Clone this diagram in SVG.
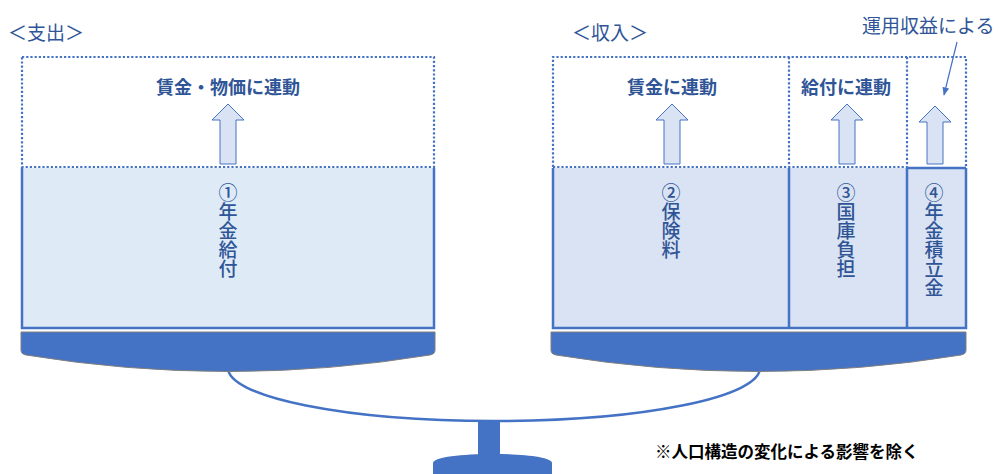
<svg xmlns="http://www.w3.org/2000/svg" width="1000" height="474" viewBox="0 0 1000 474">
<style>
text{font-family:"Noto Sans CJK JP","Noto Sans",sans-serif;fill:#2f5597}
.ttl{font-size:19px}
.lbl{font-size:18px;font-weight:bold;text-anchor:middle;dominant-baseline:central}
.vt{font-size:19px;writing-mode:vertical-rl;text-orientation:upright;font-weight:500}
.dot{fill:none;stroke:#4472c4;stroke-width:2.2;stroke-dasharray:2.2 2}
.solid{fill:none;stroke:#4472c4;stroke-width:2.5}
.uparrow{fill:#dae3f3;stroke:#4472c4;stroke-width:1}
.plate{fill:#4472c4;stroke:#7f7f7f;stroke-width:1}
.note{font-size:16.5px;font-weight:bold;fill:#000}
</style>
<defs>
<marker id="ah" viewBox="0 0 10 10" refX="9" refY="5" markerWidth="7" markerHeight="7" orient="auto">
<path d="M0,1 L10,5 L0,9 Z" fill="#4472c4"/>
</marker>
</defs>

<g id="titles">
<text class="ttl" x="8" y="40">＜支出＞</text>
<text class="ttl" x="572" y="40">＜収入＞</text>
<text class="ttl" x="862" y="33">運用収益による</text>
</g>

<g id="expense">
<rect x="22" y="168" width="412" height="160" fill="#deebf7"/>
<path class="solid" d="M22,168 V328 H434 V168"/>
<rect class="dot" x="22" y="57" width="412" height="110"/>
<text class="lbl" x="228" y="86">賃金・物価に連動</text>
<path class="uparrow" d="M228,104 L244,120 L236,120 L236,164 L220,164 L220,120 L212,120 Z"/>
<text class="vt" x="228" y="183">①年金給付</text>
</g>

<g id="income">
<rect x="553" y="168" width="413" height="160" fill="#dae3f3"/>
<path class="solid" d="M553,168 V328 H966 V168 M789,168 V328 M907,168 V328 M907,168 H966"/>
<path class="dot" d="M553,167 V57 H966 V167 M553,167 H907 M789,57 V167 M907,57 V167"/>
<text class="lbl" x="672" y="86">賃金に連動</text>
<text class="lbl" x="846" y="86">給付に連動</text>
<path class="uparrow" d="M672,104 L688,120 L680,120 L680,164 L664,164 L664,120 L656,120 Z"/>
<path class="uparrow" d="M847,104 L863,120 L855,120 L855,164 L839,164 L839,120 L831,120 Z"/>
<path class="uparrow" d="M935,106 L951,122 L943,122 L943,164 L927,164 L927,122 L919,122 Z"/>
<text class="vt" x="671" y="183">②保険料</text>
<text class="vt" x="846" y="183">③国庫負担</text>
<text class="vt" x="934" y="183">④年金積立金</text>
</g>

<g id="balance">
<path d="M228,368 A266,53 0 0 0 760,368" fill="none" stroke="#4472c4" stroke-width="2.5"/>
<path class="plate" d="M21,332 H435 V350 Q435,354 430,355 Q228,388 26,355 Q21,354 21,350 Z"/>
<path class="plate" d="M551,332 H966 V350 Q966,354 961,355 Q758,388 556,355 Q551,354 551,350 Z"/>
<rect x="478" y="420" width="22" height="40" fill="#4472c4"/>
<path d="M433,474 V463 C433,451 552,451 552,463 V474 Z" fill="#4472c4"/>
</g>

<g id="connectors">
<line x1="957" y1="42" x2="944" y2="95" stroke="#4472c4" stroke-width="1.2" marker-end="url(#ah)"/>
</g>

<g id="note">
<text class="note" x="655" y="458">※人口構造の変化による影響を除く</text>
</g>
</svg>
